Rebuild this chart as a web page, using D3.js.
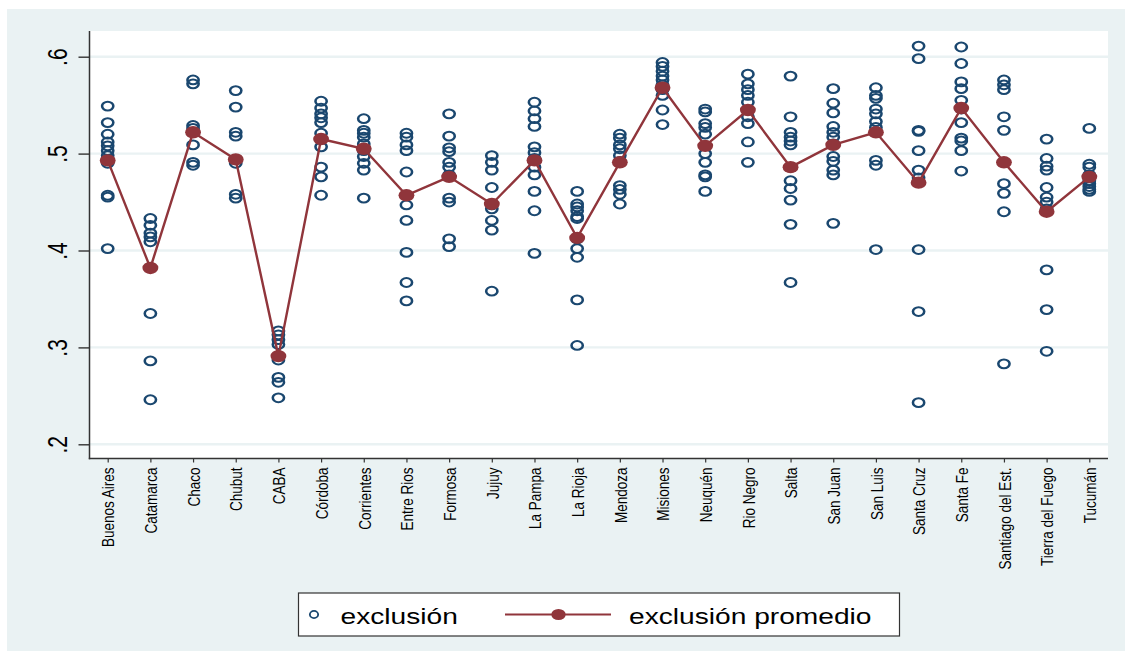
<!DOCTYPE html>
<html>
<head>
<meta charset="utf-8">
<script src="https://cdn.jsdelivr.net/npm/d3@7"></script>
<style>
  html, body { margin: 0; padding: 0; background: #ffffff; }
  svg { display: block; font-family: "Liberation Sans", Arial, Helvetica, sans-serif; }
</style>
</head>
<body>
<svg id="chart" width="1131" height="658"></svg>
<script>
// Provinces on the x axis
const provinces = [
  "Buenos Aires", "Catamarca", "Chaco", "Chubut", "CABA", "Córdoba",
  "Corrientes", "Entre Rios", "Formosa", "Jujuy", "La Pampa", "La Rioja",
  "Mendoza", "Misiones", "Neuquén", "Rio Negro", "Salta", "San Juan",
  "San Luis", "Santa Cruz", "Santa Fe", "Santiago del Est.", "Tierra del Fuego", "Tucumán"
];

// Individual exclusion values, one list per province (same order as above)
const exclusion = [
  [0.549, 0.532, 0.520, 0.512, 0.508, 0.503, 0.498, 0.494, 0.490, 0.457, 0.455, 0.402],
  [0.433, 0.426, 0.418, 0.414, 0.409, 0.335, 0.286, 0.246],
  [0.576, 0.572, 0.529, 0.526, 0.522, 0.509, 0.491, 0.488],
  [0.565, 0.548, 0.522, 0.518, 0.494, 0.490, 0.458, 0.454],
  [0.317, 0.313, 0.308, 0.303, 0.287, 0.269, 0.264, 0.248],
  [0.554, 0.547, 0.541, 0.537, 0.532, 0.521, 0.515, 0.507, 0.486, 0.476, 0.457],
  [0.536, 0.524, 0.521, 0.517, 0.510, 0.503, 0.497, 0.490, 0.483, 0.454],
  [0.521, 0.517, 0.509, 0.503, 0.481, 0.457, 0.447, 0.431, 0.398, 0.367, 0.348],
  [0.541, 0.518, 0.506, 0.502, 0.491, 0.486, 0.478, 0.454, 0.450, 0.412, 0.404],
  [0.498, 0.491, 0.483, 0.465, 0.447, 0.443, 0.431, 0.421, 0.358],
  [0.553, 0.544, 0.536, 0.528, 0.507, 0.501, 0.495, 0.486, 0.478, 0.461, 0.441, 0.397],
  [0.461, 0.448, 0.445, 0.441, 0.435, 0.433, 0.412, 0.402, 0.393, 0.349, 0.302],
  [0.520, 0.516, 0.509, 0.505, 0.498, 0.492, 0.467, 0.463, 0.458, 0.448],
  [0.594, 0.590, 0.585, 0.580, 0.576, 0.571, 0.566, 0.560, 0.545, 0.530],
  [0.546, 0.543, 0.531, 0.527, 0.520, 0.508, 0.500, 0.491, 0.478, 0.476, 0.461],
  [0.582, 0.572, 0.566, 0.560, 0.553, 0.545, 0.538, 0.531, 0.512, 0.491],
  [0.580, 0.538, 0.522, 0.517, 0.513, 0.509, 0.472, 0.464, 0.452, 0.427, 0.367],
  [0.567, 0.552, 0.542, 0.528, 0.522, 0.517, 0.510, 0.497, 0.492, 0.483, 0.478, 0.428],
  [0.568, 0.560, 0.557, 0.546, 0.541, 0.533, 0.527, 0.522, 0.493, 0.488, 0.401],
  [0.611, 0.598, 0.524, 0.523, 0.503, 0.483, 0.475, 0.401, 0.337, 0.243],
  [0.610, 0.593, 0.574, 0.567, 0.555, 0.546, 0.532, 0.516, 0.513, 0.503, 0.482],
  [0.576, 0.571, 0.566, 0.538, 0.524, 0.491, 0.469, 0.459, 0.440, 0.283],
  [0.515, 0.495, 0.487, 0.483, 0.465, 0.455, 0.450, 0.443, 0.380, 0.339, 0.296],
  [0.526, 0.489, 0.486, 0.478, 0.472, 0.469, 0.466, 0.463, 0.461]
];

// Average exclusion per province
const exclusionPromedio = [
  0.493, 0.382, 0.522, 0.494, 0.291, 0.515, 0.505, 0.457, 0.476, 0.448, 0.493, 0.413,
  0.491, 0.568, 0.508, 0.545, 0.486, 0.509, 0.522, 0.470, 0.547, 0.491, 0.440, 0.476
];

const yTicks = [0.2, 0.3, 0.4, 0.5, 0.6];
const legendLabels = ["exclusión", "exclusión promedio"];

// ---- styling ----
const SX = 1.28;                 // horizontal stretch applied to glyphs and markers
const NAVY = "#1a476f";
const MAROON = "#90353b";
const PANEL = "#eaf2f3";

const svg = d3.select("#chart");

const plot = { left: 89.5, right: 1108, top: 31, bottom: 458.5 };

const x = d3.scalePoint().domain(provinces).range([107.7, 1089.3]);
const y = d3.scaleLinear().domain([0.2, 0.6]).range([444.3, 56.7]);

// graph region and plot region
svg.append("rect").attr("x", 7).attr("y", 9).attr("width", 1118).attr("height", 642).attr("fill", PANEL);
svg.append("rect").attr("x", plot.left).attr("y", plot.top)
  .attr("width", plot.right - plot.left).attr("height", plot.bottom - plot.top).attr("fill", "#ffffff");

// horizontal grid
svg.append("g").selectAll("line").data(yTicks).join("line")
  .attr("x1", plot.left).attr("x2", plot.right)
  .attr("y1", d => y(d)).attr("y2", d => y(d))
  .attr("stroke", PANEL).attr("stroke-width", 2.4);

// y axis
const yAxis = svg.append("g").attr("transform", `translate(${plot.left},0)`)
  .call(d3.axisLeft(y).tickValues(yTicks).tickSize(11).tickPadding(0)
    .tickFormat(d => d3.format(".1f")(d).replace(/^0/, "")));
yAxis.select(".domain").remove();
yAxis.selectAll(".tick line").attr("stroke", "#333").attr("stroke-width", 1.4);
yAxis.selectAll(".tick text")
  .attr("x", null).attr("dy", null)
  .attr("text-anchor", "middle")
  .attr("fill", "#000")
  .attr("font-size", 21)
  .attr("transform", `translate(${67 - plot.left},0) scale(${SX},1) rotate(-90)`);

// x axis
const xAxis = svg.append("g").attr("transform", `translate(0,${plot.bottom})`)
  .call(d3.axisBottom(x).tickSize(4).tickPadding(0));
xAxis.select(".domain").remove();
xAxis.selectAll(".tick line").attr("stroke", "#333").attr("stroke-width", 1.2);
xAxis.selectAll(".tick text")
  .attr("y", null).attr("dy", "0.36em")
  .attr("text-anchor", "end")
  .attr("fill", "#000")
  .attr("font-size", 13.5)
  .attr("transform", `translate(0,9) scale(${SX},1) rotate(-90)`);

// axis lines
svg.append("line").attr("x1", plot.left).attr("x2", plot.left)
  .attr("y1", plot.top).attr("y2", plot.bottom + 0.7)
  .attr("stroke", "#333").attr("stroke-width", 1.5);
svg.append("line").attr("x1", plot.left - 0.7).attr("x2", plot.right)
  .attr("y1", plot.bottom).attr("y2", plot.bottom)
  .attr("stroke", "#333").attr("stroke-width", 1.5);

// individual observations: hollow circles
const obs = provinces.flatMap((p, i) => exclusion[i].map(v => ({ p, v })));
svg.append("g").selectAll("circle").data(obs).join("circle")
  .attr("r", 4.4)
  .attr("transform", d => `translate(${x(d.p)},${y(d.v)}) scale(${SX},1)`)
  .attr("fill", "none").attr("stroke", NAVY).attr("stroke-width", 2);

// average line with filled markers
const means = provinces.map((p, i) => ({ p, v: exclusionPromedio[i] }));
svg.append("path").datum(means)
  .attr("d", d3.line().x(d => x(d.p)).y(d => y(d.v)))
  .attr("fill", "none").attr("stroke", MAROON).attr("stroke-width", 2.4);
svg.append("g").selectAll("circle").data(means).join("circle")
  .attr("r", 6.2)
  .attr("transform", d => `translate(${x(d.p)},${y(d.v)}) scale(${SX},1)`)
  .attr("fill", MAROON);

// legend
const lg = svg.append("g");
lg.append("rect").attr("x", 298.5).attr("y", 593).attr("width", 601).attr("height", 43)
  .attr("fill", "#fff").attr("stroke", "#333").attr("stroke-width", 1.2);
lg.append("circle").attr("r", 3.6)
  .attr("transform", `translate(314,614.5) scale(1.15,1)`)
  .attr("fill", "none").attr("stroke", NAVY).attr("stroke-width", 1.6);
lg.append("text").attr("transform", `translate(340.5,624) scale(${SX},1)`)
  .attr("font-size", 22).attr("fill", "#000").text(legendLabels[0]);
lg.append("line").attr("x1", 505).attr("x2", 611).attr("y1", 614.5).attr("y2", 614.5)
  .attr("stroke", MAROON).attr("stroke-width", 2.2);
lg.append("circle").attr("r", 5.6)
  .attr("transform", `translate(558.5,614.5) scale(${SX},1)`)
  .attr("fill", MAROON);
lg.append("text").attr("transform", `translate(629,624) scale(${SX},1)`)
  .attr("font-size", 22).attr("fill", "#000").text(legendLabels[1]);
</script>
</body>
</html>
